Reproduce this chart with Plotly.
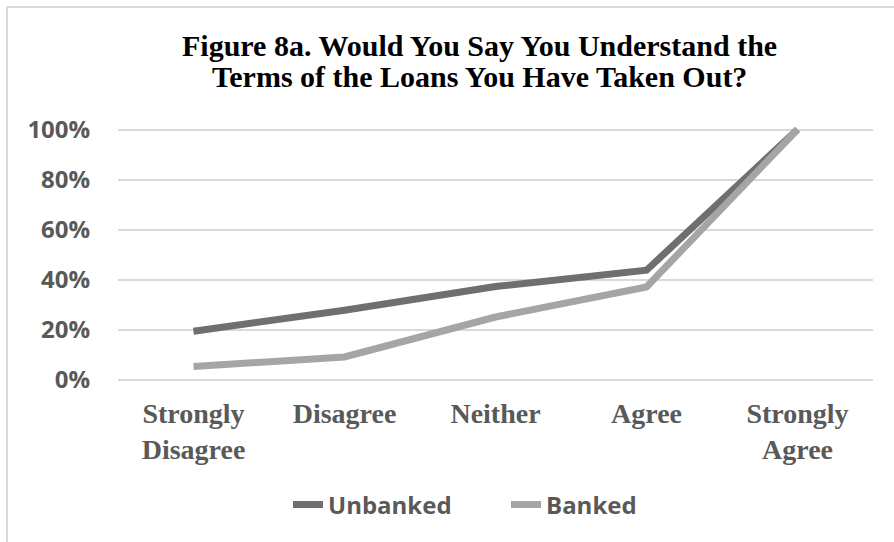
import plotly.graph_objects as go

# Survey responses (cumulative share) by banking status
categories = ["Strongly<br>Disagree", "Disagree", "Neither", "Agree", "Strongly<br>Agree"]
unbanked = [0.193, 0.277, 0.372, 0.437, 1.00]
banked = [0.052, 0.090, 0.250, 0.370, 1.00]
y_ticks = [0, 0.2, 0.4, 0.6, 0.8, 1.0]
y_tick_labels = ["0%", "20%", "40%", "60%", "80%", "100%"]
title_lines = [
    "Figure 8a. Would You Say You Understand the",
    "Terms of the Loans You Have Taken Out?",
]

W, H = 894, 542
ML, MR, MT, MB = 118, 21, 122, 155
PW, PH = W - ML - MR, H - MT - MB

def px_x(p):
    return (p - ML) / PW

def px_y(p):
    return (H - MB - p) / PH

sans = "Open Sans"
serif = "Liberation Serif"
tick_grey = "#595959"

fig = go.Figure()
fig.add_trace(go.Scatter(
    x=categories, y=unbanked, name="Unbanked", mode="lines",
    line=dict(color="#6f6f6f", width=7),
))
fig.add_trace(go.Scatter(
    x=categories, y=banked, name="Banked", mode="lines",
    line=dict(color="#a5a5a5", width=7),
))

# two-line chart title, each line placed separately for tight leading
title_annotations = [
    dict(text=line, xref="paper", yref="paper",
         x=px_x(479), y=px_y(yc), xanchor="center", yanchor="middle",
         showarrow=False,
         font=dict(family=serif, size=30, color="black", weight="bold"))
    for line, yc in zip(title_lines, [45, 76])
]

fig.update_layout(
    width=W, height=H,
    margin=dict(l=ML, r=MR, t=MT, b=MB),
    paper_bgcolor="white", plot_bgcolor="white",
    showlegend=True,
    legend=dict(
        orientation="h", xanchor="left", yanchor="middle",
        x=px_x(288), y=px_y(505),
        font=dict(family=sans, size=24, color=tick_grey, weight="bold"),
        entrywidth=173, entrywidthmode="pixels",
        tracegroupgap=0,
    ),
    xaxis=dict(
        type="category", range=[-0.5, 4.5],
        showgrid=False, zeroline=False, showline=False,
        tickfont=dict(family=serif, size=28, color=tick_grey, weight="bold"),
        ticks="outside", ticklen=1, tickcolor="rgba(0,0,0,0)",
    ),
    yaxis=dict(
        range=[-0.03, 1.03], tickvals=y_ticks, ticktext=y_tick_labels,
        showgrid=True, gridcolor="#d9d9d9", gridwidth=1.5,
        zeroline=False, showline=False,
        tickfont=dict(family=sans, size=24, color=tick_grey, weight="bold"),
        ticks="outside", ticklen=22, tickcolor="rgba(0,0,0,0)",
    ),
    annotations=title_annotations,
    shapes=[
        dict(type="line", xref="paper", yref="paper",
             x0=px_x(7), x1=px_x(W + 5), y0=px_y(7), y1=px_y(7),
             line=dict(color="#d9d9d9", width=2)),
        dict(type="line", xref="paper", yref="paper",
             x0=px_x(7), x1=px_x(7), y0=px_y(7), y1=px_y(H + 5),
             line=dict(color="#d9d9d9", width=2)),
    ],
)

fig.write_html("out.html")
